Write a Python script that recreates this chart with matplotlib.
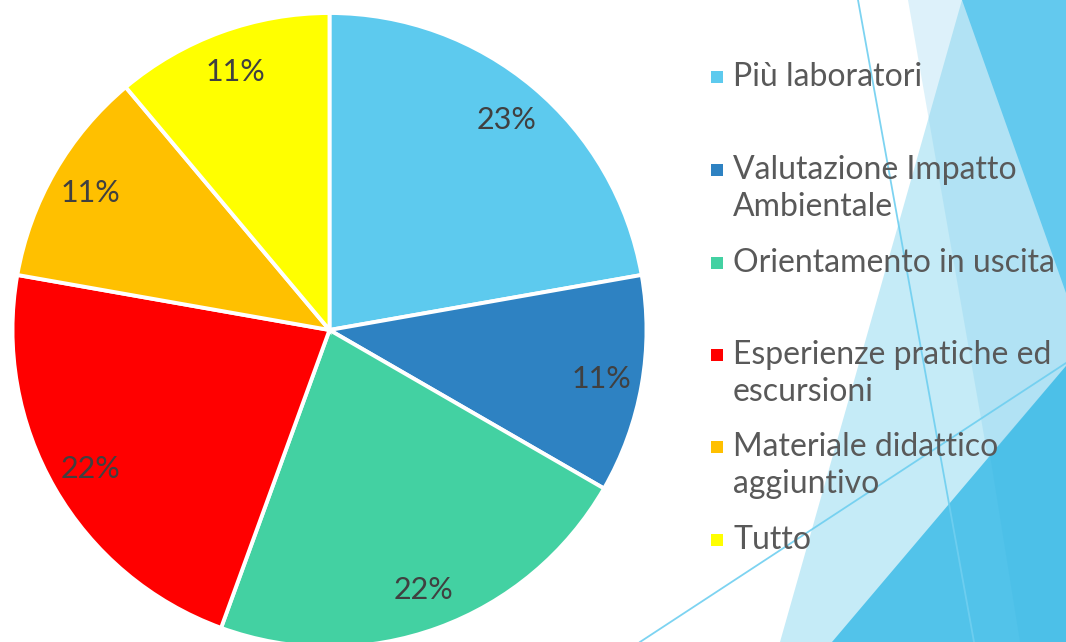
import matplotlib
matplotlib.use("Agg")
import matplotlib.pyplot as plt
from matplotlib.patches import Polygon, Rectangle
import numpy as np

# dati del grafico
categorie = ["Più laboratori", "Valutazione Impatto\nAmbientale", "Orientamento in uscita",
             "Esperienze pratiche ed\nescursioni", "Materiale didattico\naggiuntivo", "Tutto"]
risposte = [2, 1, 2, 2, 1, 1]
etichette_pct = ["23%", "11%", "22%", "22%", "11%", "11%"]
colori = ["#5DCAEE", "#2E82C2", "#43D1A2", "#FF0000", "#FFC000", "#FFFF00"]

W, H = 1066, 642
fig = plt.figure(figsize=(W / 100, H / 100), dpi=100)
ax = fig.add_axes([0, 0, 1, 1])


def pts(lista):
    # coordinate in pixel (origine in alto) -> coordinate dell'asse
    return [(x, H - y) for x, y in lista]


# sfondo decorativo (triangoli a destra)
ax.add_patch(Polygon(pts([(962, 0), (780, 642), (1066, 642), (1066, 0)]), closed=True,
                     facecolor="#C5EBF7", lw=0))
ax.add_patch(Polygon(pts([(908, 0), (1066, 0), (1066, 642), (1020, 642)]), closed=True,
                     facecolor="#78CBEC", alpha=0.25, lw=0))
ax.add_patch(Polygon(pts([(962, 0), (1066, 0), (1066, 293)]), closed=True,
                     facecolor="#63C9EE", lw=0))
ax.add_patch(Polygon(pts([(832, 642), (1066, 642), (1066, 366)]), closed=True,
                     facecolor="#52C3EA", lw=0))
ax.add_patch(Polygon(pts([(1020, 642), (1066, 642), (1066, 366), (990, 455)]), closed=True,
                     facecolor="#3DB8E4", alpha=0.25, lw=0))
ax.plot(*zip(*pts([(858, 0), (974, 642)])), color="#6FCFF0", lw=1.3, alpha=0.9)
ax.plot(*zip(*pts([(640, 642), (1066, 363)])), color="#6FCFF0", lw=1.3, alpha=0.9)

# torta
cx, cy, r = 329.5, H - 330, 317
wedges, _ = ax.pie(risposte, colors=colori, startangle=90, counterclock=False,
                   center=(cx, cy), radius=r, frame=True,
                   wedgeprops=dict(edgecolor="white", linewidth=2.8))
ax.set_xlim(0, W)
ax.set_ylim(0, H)
ax.axis("off")

for w, lab in zip(wedges, etichette_pct):
    ang = np.deg2rad((w.theta1 + w.theta2) / 2)
    ax.text(cx + 0.87 * r * np.cos(ang), cy + 0.87 * r * np.sin(ang) - 1, lab,
            ha="center", va="center", fontsize=22, color="#404040", family="Lato")

# legenda manuale
y_legenda = [77, 188.5, 263, 373.5, 465.5, 540]
for nome, col, yl in zip(categorie, colori, y_legenda):
    righe = nome.split("\n")
    y0 = yl - (len(righe) - 1) * 18.5
    ax.add_patch(Rectangle((711, H - y0 - 6), 12, 12, facecolor=col, lw=0))
    ax.text(733, H - yl, nome, ha="left", va="center", fontsize=23, color="#595959",
            family="Lato", linespacing=1.3)

fig.savefig("out.png", dpi=100)
